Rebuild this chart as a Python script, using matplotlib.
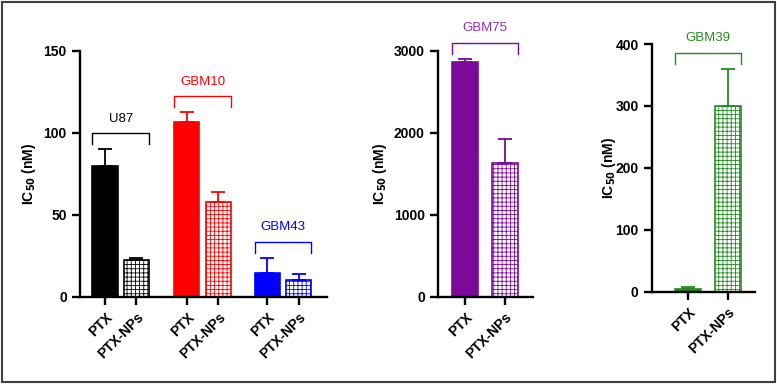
import numpy as np
import matplotlib.pyplot as plt
from matplotlib.patches import Rectangle

plt.rcParams['font.family'] = ['Liberation Sans', 'DejaVu Sans']
plt.rcParams['hatch.linewidth'] = 0.6

# data (IC50, nM)
treatments = ['PTX', 'PTX-NPs']
groups_a = ['U87', 'GBM10', 'GBM43']
means_a = [[80, 22.5], [107, 57.7], [14.4, 10.4]]
errs_a = [[10, 1], [5.6, 6.3], [9.6, 3.4]]
colors_a = ['#000000', '#FF0000', '#0000FF']

group_b = 'GBM75'
means_b = [2862, 1638]
errs_b = [40, 290]
color_b = '#7B0A9B'

group_c = 'GBM39'
means_c = [5, 300]
errs_c = [2, 60]
color_c = '#228B22'


def style_axis(ax, ylim, yticks):
    ax.set_ylim(*ylim)
    ax.set_yticks(yticks)
    for s in ['top', 'right']:
        ax.spines[s].set_visible(False)
    for s in ['left', 'bottom']:
        ax.spines[s].set_linewidth(1.7)
    ax.tick_params(axis='both', width=1.7, length=6, labelsize=10)
    for lab in ax.get_yticklabels():
        lab.set_fontweight('bold')
    ax.set_ylabel(r'IC$_{\mathbf{50}}$ (nM)', fontsize=10, fontweight='bold')


def draw_pair(ax, x, means, errs, color, name, ymax, width, text_color=None):
    ax.bar(x[0], means[0], width, color=color, edgecolor=color, linewidth=1.2)
    ax.bar(x[1], means[1], width, color='white', edgecolor=color,
           hatch='++++', linewidth=1.2)
    ax.errorbar(x, means, yerr=[[0, 0], errs], fmt='none', ecolor=color,
                elinewidth=1.3, capsize=5, capthick=1.3)
    top = max(m + e for m, e in zip(means, errs)) + 0.065 * ymax
    drop = 0.045 * ymax
    x0, x1 = x[0] - width / 2, x[1] + width / 2
    ax.plot([x0, x0, x1, x1], [top - drop, top, top, top - drop],
            color=color, lw=1.0, clip_on=False)
    ax.text((x0 + x1) / 2, top + 0.06 * ymax, name, ha='center', va='center',
            color=text_color or color, fontsize=9.5, clip_on=False)


fig = plt.figure(figsize=(7.77, 3.84), dpi=100)

# panel 1: U87, GBM10, GBM43
ax1 = fig.add_axes([0.103, 0.2266, 0.318, 0.6406])
offsets = [0, 2.6, 5.15]
xt = []
for off, m, e, c, g in zip(offsets, means_a, errs_a, colors_a, groups_a):
    x = [off, off + 1]
    xt += x
    draw_pair(ax1, x, m, e, c, g, 150, 0.8)
ax1.set_xlim(-0.79, 7.05)
ax1.set_xticks(xt)
ax1.set_xticklabels(treatments * 3, rotation=45, ha='right',
                    rotation_mode='anchor', fontweight='bold')
style_axis(ax1, (0, 150), [0, 50, 100, 150])
ax1.yaxis.set_label_coords(-0.17, 0.5)

# panel 2: GBM75
ax2 = fig.add_axes([0.5637, 0.2266, 0.1223, 0.6406])
draw_pair(ax2, [0, 1], means_b, errs_b, color_b, group_b, 3000, 0.67,
          text_color='#9030B0')
ax2.set_xlim(-0.675, 1.7)
ax2.set_xticks([0, 1])
ax2.set_xticklabels(treatments, rotation=45, ha='right',
                    rotation_mode='anchor', fontweight='bold')
style_axis(ax2, (0, 3000), [0, 1000, 2000, 3000])
ax2.yaxis.set_label_coords(-0.52, 0.5)

# panel 3: GBM39
ax3 = fig.add_axes([0.839, 0.2404, 0.1326, 0.645])
draw_pair(ax3, [0, 1], means_c, errs_c, color_c, group_c, 400, 0.65)
ax3.set_xlim(-0.9, 1.675)
ax3.set_xticks([0, 1])
ax3.set_xticklabels(treatments, rotation=45, ha='right',
                    rotation_mode='anchor', fontweight='bold')
style_axis(ax3, (0, 400), [0, 100, 200, 300, 400])
ax3.yaxis.set_label_coords(-0.33, 0.5)

# outer frame
fig.add_artist(Rectangle((0.002, 0.005), 0.995, 0.99, transform=fig.transFigure,
                         fill=False, edgecolor='#404040', linewidth=1.5))

fig.savefig('out.png', dpi=100)
